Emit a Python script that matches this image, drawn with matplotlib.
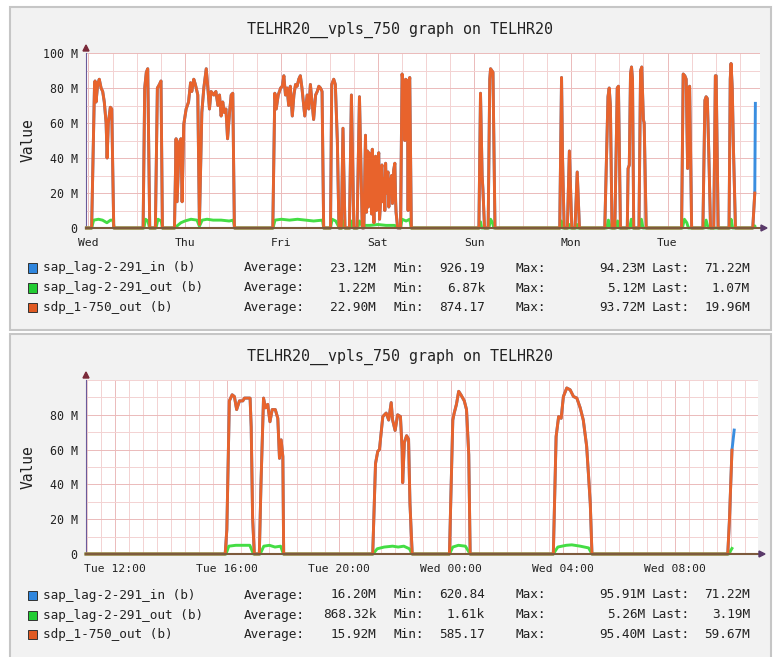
import matplotlib
matplotlib.use("Agg")
import matplotlib.pyplot as plt
from matplotlib.patches import Rectangle, Polygon

# ---------------- data ----------------
# Top graph: hours since Wed 00:00, values in M (bits)
top_out_hours = [-0.5, 0.8, 1.5, 1.65, 1.9, 2.3, 2.7, 3.15, 3.55, 3.95, 4.4, 4.65, 4.95, 5.45, 5.8, 6.3,
                 13.6, 14.0, 14.4, 14.75, 15.25,
                 16.65, 17.15, 17.65, 18.05, 18.4,
                 21.4, 21.8, 22.05, 22.6, 23.0, 23.3, 23.7, 24.3, 24.9, 25.4, 25.7, 26.2, 26.6, 27.2, 27.6,
                 28.2, 28.7, 29.3, 29.7, 30.1, 30.5, 31.2, 31.7, 32.2, 32.6, 33.0, 33.4, 33.8, 34.2, 34.6,
                 35.1, 35.5, 35.9, 36.3,
                 45.85, 46.35, 46.7, 47.2, 47.8, 48.2, 48.6, 49.0, 49.4, 49.8, 50.2, 50.7, 51.1, 51.5, 51.9,
                 52.3, 52.7, 53.1, 53.8, 54.4, 54.8, 55.2, 55.6, 56.0, 56.5, 56.9, 57.3, 57.7, 58.1, 58.5,
                 60.2, 60.5, 61.0, 61.4, 61.9, 62.3, 62.9, 63.3, 63.8, 64.9, 65.4, 66.0, 66.8, 67.4, 68.1,
                 68.5, 68.9, 69.15, 69.4, 69.6, 69.8, 70.0, 70.2, 70.4, 70.6, 70.8, 71.0, 71.2, 71.4, 71.6,
                 71.8, 72.0, 72.2, 72.4, 72.6, 72.8, 73.0, 73.2, 73.5, 73.7, 73.9, 74.1, 74.3, 74.5, 74.7,
                 74.9, 75.1, 75.4, 75.6, 75.7, 75.9, 76.2, 76.4, 76.5, 76.9,
                 77.6, 78.0, 78.4, 78.7, 78.9, 79.3, 79.5, 79.7, 79.9, 80.3,
                 97.1, 97.5, 97.9, 98.1, 98.5, 99.4, 99.8, 100.0, 100.6, 101.1,
                 117.2, 117.65, 117.9, 118.3, 119.1, 119.6, 120.2, 121.0, 121.55, 122.1,
                 128.4, 129.2, 129.5, 129.8, 130.2, 130.9, 131.5, 131.8, 132.3,
                 134.0, 134.2, 134.5, 134.8, 135.05, 135.3, 135.6, 136.9, 137.3, 137.6, 138.0, 138.2, 138.7,
                 147.5, 147.9, 148.3, 148.65, 149.0, 149.3, 149.5, 150.0,
                 152.8, 153.3, 153.6, 153.9, 154.3, 154.7, 155.5, 155.9, 156.1, 156.6,
                 159.3, 159.6, 159.8, 160.1, 160.4, 160.9, 165.2, 165.7]
top_out_vals = [0, 0, 80, 84, 72, 82, 85, 80, 78, 72, 60, 40, 60, 69, 68, 0,
                0, 80, 89, 91, 0,
                0, 80, 82, 84, 0,
                0, 51, 15, 49, 51, 15, 59, 68, 72, 83, 78, 85, 82, 76, 2,
                66, 80, 91, 80, 68, 78, 76, 78, 70, 76, 64, 72, 66, 68, 51,
                66, 76, 77, 0,
                0, 77, 68, 76, 80, 81, 87, 76, 80, 70, 81, 64, 76, 82, 81,
                85, 87, 80, 64, 76, 68, 82, 72, 62, 76, 78, 81, 80, 78, 0,
                0, 82, 85, 82, 50, 0, 0, 57, 0, 0, 76, 0, 0, 75, 0,
                0, 53, 9, 44, 12, 43, 24, 40, 8, 45, 20, 3, 38, 41, 10,
                16, 39, 43, 5, 13, 33, 36, 15, 28, 10, 37, 20, 30, 32, 12,
                24, 26, 30, 14, 16, 33, 37, 15, 9, 0,
                0, 88, 80, 50, 85, 84, 10, 80, 86, 0,
                0, 77, 30, 22, 0, 0, 85, 91, 89, 0,
                0, 86, 40, 0, 0, 44, 0, 0, 32, 0,
                0, 75, 80, 70, 0, 0, 80, 81, 0,
                0, 34, 36, 88, 92, 85, 0, 0, 90, 92, 62, 60, 0,
                0, 88, 87, 85, 34, 80, 81, 0,
                0, 73, 75, 74, 40, 0, 0, 87, 87, 0,
                0, 85, 94, 80, 45, 0, 0, 19.96]

top_gout_hours = [-0.5, 0.8, 1.3, 2.5, 3.5, 4.6, 5.5, 6.1, 6.4,
                  13.8, 14.2, 14.8, 15.2, 16.8, 17.3, 18.1, 18.4,
                  21.5, 22.2, 23.0, 24.0, 25.5, 27.0, 27.6, 28.3, 29.5, 31.0, 33.0, 35.0, 36.0, 36.4,
                  45.9, 46.4, 48.0, 50.0, 52.0, 54.0, 56.0, 58.2, 58.5,
                  60.2, 60.6, 61.5, 62.4, 63.1, 63.4, 63.8, 65.1, 65.4, 65.9, 67.0, 67.4, 68.0, 70.0,
                  72.0, 74.0, 76.0, 76.9, 77.6, 78.0, 79.0, 79.9, 80.3,
                  97.2, 97.5, 97.8, 99.6, 100.0, 100.5, 100.8,
                  117.3, 117.6, 117.9, 119.4, 119.6, 119.8, 121.3, 121.5, 121.7,
                  128.9, 129.3, 129.8, 131.2, 131.6, 132.0, 134.6, 135.0, 135.4, 137.1, 137.5, 137.9,
                  147.7, 148.2, 148.8, 149.2, 153.1, 153.6, 154.1, 159.5, 159.8, 160.2, 165.2, 165.7]
top_gout_vals = [0, 0, 4.5, 5, 4.5, 3, 4.5, 4.5, 0,
                 0, 5, 4, 0, 0, 5, 4, 0,
                 0, 1.5, 3, 4, 5, 4.5, 1, 4.5, 5, 4.5, 4.5, 4, 4.5, 0,
                 0, 4.5, 5, 4.5, 5, 4.5, 4, 4.5, 0,
                 0, 5, 4, 0, 0, 4, 0, 0, 4, 0, 0, 4, 1.5, 1.5,
                 2, 1.5, 1.5, 1, 0, 5, 4, 5, 0,
                 0, 3.5, 0, 0, 5, 3, 0,
                 0, 4, 0, 0, 2, 0, 0, 2, 0,
                 0, 4.5, 0, 0, 4, 0, 0, 5, 0, 0, 5, 0,
                 0, 5, 3, 0, 0, 4.5, 0, 0, 5, 0, 0, 1.07]

# inbound series follows the outbound one and ends higher
top_in_hours = top_out_hours + [165.85]
top_in_vals = top_out_vals + [71.22]

top_day_hours = [0, 24, 48, 72, 96, 120, 144]
top_day_labels = ['Wed', 'Thu', 'Fri', 'Sat', 'Sun', 'Mon', 'Tue']
top_y_ticks = [0, 20, 40, 60, 80, 100]
top_y_labels = ['0', '20 M', '40 M', '60 M', '80 M', '100 M']

# Bottom graph: hours since Tue 12:00
bot_out_hours = [-1.05, 3.92, 3.98, 4.07, 4.17, 4.25, 4.33, 4.43, 4.55, 4.61, 4.73, 4.81, 4.85, 4.9, 4.96,
                 5.14, 5.2, 5.29, 5.36, 5.44, 5.52, 5.6, 5.71, 5.8, 5.86, 5.92, 5.98, 6.01,
                 9.19, 9.29, 9.37, 9.43, 9.55, 9.67, 9.76, 9.85, 9.9, 9.99, 10.08, 10.18, 10.24, 10.26,
                 10.32, 10.4, 10.47, 10.52, 10.6,
                 11.93, 12.05, 12.1, 12.18, 12.26, 12.34, 12.46, 12.54, 12.62, 12.67,
                 15.64, 15.74, 15.83, 15.92, 16.0, 16.12, 16.24, 16.36, 16.48, 16.6, 16.71, 16.83, 16.9,
                 16.96, 17.02,
                 21.87, 21.93, 22.02]
bot_out_vals = [0, 0, 14, 88, 91.5, 90.5, 83, 88, 88, 89.6, 89.6, 89.6, 73, 21, 0,
                0, 40.7, 89.6, 84, 86, 76, 83, 83, 78, 55, 65.6, 56, 0,
                0, 52, 59, 60, 79, 81, 77, 87, 77, 71, 80, 79, 60, 41,
                64, 68, 66, 29, 0,
                0, 77, 81, 86, 93.5, 91.5, 88, 83, 57, 0,
                0, 67.5, 79, 78, 90.5, 95.4, 94.4, 90.5, 89.6, 84, 77, 62, 44.5,
                29, 0,
                0, 19.6, 59.67]

bot_gout_hours = [-1.05, 3.95, 4.05, 4.3, 4.8, 4.93, 5.17, 5.3, 5.5, 5.7, 5.9, 6.0,
                  9.2, 9.35, 9.6, 9.9, 10.1, 10.3, 10.5, 10.6,
                  11.93, 12.05, 12.25, 12.5, 12.67,
                  15.64, 15.8, 16.1, 16.3, 16.6, 16.9, 17.02,
                  21.9, 22.02]
bot_gout_vals = [0, 0, 4.5, 5, 5, 0, 0, 4.5, 5, 4, 4.5, 0,
                 0, 3, 4, 4.5, 4, 4.5, 3, 0,
                 0, 4, 5, 4.5, 0,
                 0, 4, 5, 5.26, 4.5, 3.5, 0,
                 0, 3.19]

bot_in_hours = bot_out_hours + [22.1]
bot_in_vals = bot_out_vals + [71.22]

bot_tick_hours = [0, 4, 8, 12, 16, 20]
bot_tick_labels = ['Tue 12:00', 'Tue 16:00', 'Tue 20:00', 'Wed 00:00', 'Wed 04:00', 'Wed 08:00']
bot_y_ticks = [0, 20, 40, 60, 80]
bot_y_labels = ['0', '20 M', '40 M', '60 M', '80 M']

series_names = ['sap_lag-2-291_in (b)', 'sap_lag-2-291_out (b)', 'sdp_1-750_out (b)']
top_avg = ['23.12M', '1.22M', '22.90M']
top_min = ['926.19', '6.87k', '874.17']
top_max = ['94.23M', '5.12M', '93.72M']
top_last = ['71.22M', '1.07M', '19.96M']
bot_avg = ['16.20M', '868.32k', '15.92M']
bot_min = ['620.84', '1.61k', '585.17']
bot_max = ['95.91M', '5.26M', '95.40M']
bot_last = ['71.22M', '3.19M', '59.67M']

title = 'TELHR20__vpls_750 graph on TELHR20'

# ---------------- style ----------------
C_IN = '#3a8ee0'
C_GOUT = '#44dd44'
C_OUT = '#e8632c'
SQ_COLORS = ['#2f86de', '#22cc33', '#e05a22']
GRID_MINOR = '#f3d2d2'
GRID_MAJOR = '#ebbaba'
MONO = ['DejaVu Sans Mono']
LW = 2.1

W, H = 778, 657
DPI = 100
plt.rcParams['font.family'] = MONO
fig = plt.figure(figsize=(W / DPI, H / DPI), dpi=DPI, facecolor='white')


def fx(x):
    return x / W


def fy(y):
    return 1 - y / H


# panels
for (y0, y1) in [(7, 330), (334, 662)]:
    fig.patches.append(Rectangle((fx(10), fy(y1)), fx(771) - fx(10), fy(y0) - fy(y1),
                                 transform=fig.transFigure, facecolor='#f2f2f2',
                                 edgecolor='#c6c6c6', lw=1.5, zorder=-5))


def make_panel(left, right, top, bottom, xlim, major_x, labels_x, minor_x,
               yticks, ylabels, in_h, in_v, g_h, g_v, o_h, o_v, off):
    ax = fig.add_axes([fx(left), fy(bottom), fx(right) - fx(left), fy(top) - fy(bottom)])
    ax.set_zorder(2)
    ax.set_facecolor('white')
    ax.set_xlim(*xlim)
    ax.set_ylim(0, 100)
    ax.set_xticks(major_x, labels_x)
    ax.set_xticks(minor_x, minor=True)
    ax.set_yticks(yticks, ylabels)
    ax.set_yticks(list(range(10, 101, 10)), minor=True)
    ax.grid(which='minor', color=GRID_MINOR, lw=0.7)
    ax.grid(which='major', color=GRID_MAJOR, lw=0.7)
    ax.set_axisbelow(True)
    ax.tick_params(which='both', length=0)
    ax.tick_params(axis='y', pad=6, labelsize=8.4, colors='#222222')
    ax.tick_params(axis='x', pad=7, labelsize=8.2, colors='#222222')
    for s in ['top', 'right', 'bottom']:
        ax.spines[s].set_visible(False)
    ax.spines['left'].set_color('#6a5a9a')
    ax.spines['left'].set_linewidth(0.8)
    ax.plot(in_h, in_v, color=C_IN, lw=LW, clip_on=False, zorder=3, solid_joinstyle='round')
    ax.plot(g_h, g_v, color=C_GOUT, lw=LW, clip_on=False, zorder=4, solid_joinstyle='round')
    ax.plot(o_h, o_v, color=C_OUT, lw=LW, clip_on=False, zorder=5, solid_joinstyle='round')
    ax.axhline(0, color='#7d5a3c', lw=1.5, zorder=6, clip_on=False)
    # arrows
    fig.patches.append(Polygon([[fx(left), fy(top - 8)], [fx(left - 3), fy(top - 2)], [fx(left + 3), fy(top - 2)]],
                               closed=True, transform=fig.transFigure, color='#7a2a3a', zorder=10))
    fig.patches.append(Polygon([[fx(right + 7), fy(bottom)], [fx(right + 1), fy(bottom - 3)], [fx(right + 1), fy(bottom + 3)]],
                               closed=True, transform=fig.transFigure, color='#5a3a6a', zorder=10))
    # title and label
    fig.text(fx(400), fy(30 + off), title, ha='center', va='center', fontsize=10.8, color='#222222')
    fig.text(fx(28), fy((top + bottom) / 2 + (0 if off == 0 else 0)), 'Value', rotation=90,
             ha='center', va='center', fontsize=10.5, color='#222222')
    return ax


make_panel(86, 760, 53, 228, (-0.6, 167.0), top_day_hours, top_day_labels,
           [h for h in range(0, 168, 6)], top_y_ticks, top_y_labels,
           top_in_hours, top_in_vals, top_gout_hours, top_gout_vals, top_out_hours, top_out_vals, 0)
make_panel(86, 758, 380, 554, (-1.05, 22.95), bot_tick_hours, bot_tick_labels,
           [h * 0.5 for h in range(-2, 46)], bot_y_ticks, bot_y_labels,
           bot_in_hours, bot_in_vals, bot_gout_hours, bot_gout_vals, bot_out_hours, bot_out_vals, 327)


def legend(rows_y, avg, mn, mx, last):
    for i, y in enumerate(rows_y):
        fig.patches.append(Rectangle((fx(28), fy(y + 4.5)), fx(9), 9 / H, transform=fig.transFigure,
                                     facecolor=SQ_COLORS[i], edgecolor='#333333', lw=0.7, zorder=10))
        kw = dict(va='center', fontsize=9.2, color='#222222')
        fig.text(fx(43), fy(y), series_names[i], ha='left', **kw)
        fig.text(fx(244), fy(y), 'Average:', ha='left', **kw)
        fig.text(fx(376), fy(y), avg[i], ha='right', **kw)
        fig.text(fx(394), fy(y), 'Min:', ha='left', **kw)
        fig.text(fx(485), fy(y), mn[i], ha='right', **kw)
        fig.text(fx(516), fy(y), 'Max:', ha='left', **kw)
        fig.text(fx(645), fy(y), mx[i], ha='right', **kw)
        fig.text(fx(652), fy(y), 'Last:', ha='left', **kw)
        fig.text(fx(750), fy(y), last[i], ha='right', **kw)


legend([268, 288, 307.5], top_avg, top_min, top_max, top_last)
legend([595, 615, 634.5], bot_avg, bot_min, bot_max, bot_last)

fig.savefig('out.png', dpi=DPI, facecolor='white')
